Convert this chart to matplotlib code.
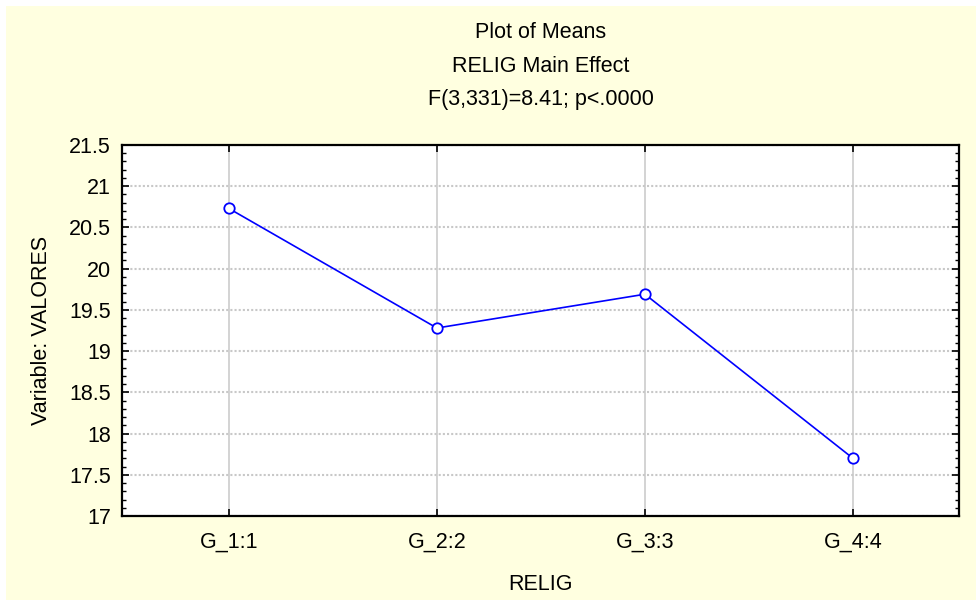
import matplotlib
matplotlib.use("Agg")
import matplotlib.pyplot as plt
from matplotlib.ticker import MultipleLocator, FuncFormatter
from matplotlib.patches import Rectangle

plt.rcParams['font.family'] = ['Liberation Sans', 'DejaVu Sans']

categories = ["G_1:1", "G_2:2", "G_3:3", "G_4:4"]
means = [20.73, 19.28, 19.69, 17.70]
title_lines = ["Plot of Means", "RELIG Main Effect", "F(3,331)=8.41; p<.0000"]

W, H = 976, 600
FS = 15.5
fig = plt.figure(figsize=(W / 100, H / 100), dpi=100)
fig.patch.set_facecolor('white')
fig.patches.append(Rectangle((6 / W, -0.01), 1.02 - 6 / W, 1.01 - 6 / H, transform=fig.transFigure,
                             facecolor='#FFFFE0', edgecolor='none', zorder=-10))

left, right, top, bottom = 122, 959, 145, 516
ax = fig.add_axes([left / W, 1 - bottom / H, (right - left) / W, (bottom - top) / H])
ax.set_facecolor('white')

x = list(range(1, len(categories) + 1))
ax.plot(x, means, color='#0000FF', linewidth=1.2, marker='o', markersize=7.5,
        markerfacecolor='white', markeredgecolor='#0000FF', markeredgewidth=1.3, zorder=5)

ax.set_xlim(1 - 0.514, len(categories) + 0.51)
ax.set_ylim(17, 21.5)
ax.set_xticks(x)
ax.set_xticklabels(categories)
ax.yaxis.set_major_locator(MultipleLocator(0.5))
ax.yaxis.set_minor_locator(MultipleLocator(0.1))
ax.yaxis.set_major_formatter(FuncFormatter(lambda v, p: '%g' % v))

ax.tick_params(axis='both', which='major', direction='in', length=5, width=1.2,
               labelsize=FS, top=True, right=True, pad=8, colors='black')
ax.tick_params(axis='y', which='minor', direction='in', length=3, width=1,
               left=True, right=True)
ax.tick_params(axis='x', which='major', pad=11)

ax.grid(True, which='major', axis='y', color='#c8c8c8', linestyle=(0, (1, 1)), linewidth=1.5)
ax.grid(True, which='major', axis='x', color='#d0d0d0', linestyle='-', linewidth=1.3)
ax.set_axisbelow(True)
for s in ax.spines.values():
    s.set_linewidth(1.6)
    s.set_color('black')

ax.set_ylabel("Variable: VALORES", fontsize=FS, labelpad=12)
ax.set_xlabel("RELIG", fontsize=FS, labelpad=16)

for i, t in enumerate(title_lines):
    fig.text((left + right) / 2 / W, 1 - (32 + 34 * i) / H, t, ha='center', va='center', fontsize=FS)

fig.savefig("out.png", dpi=100, facecolor=fig.get_facecolor())
